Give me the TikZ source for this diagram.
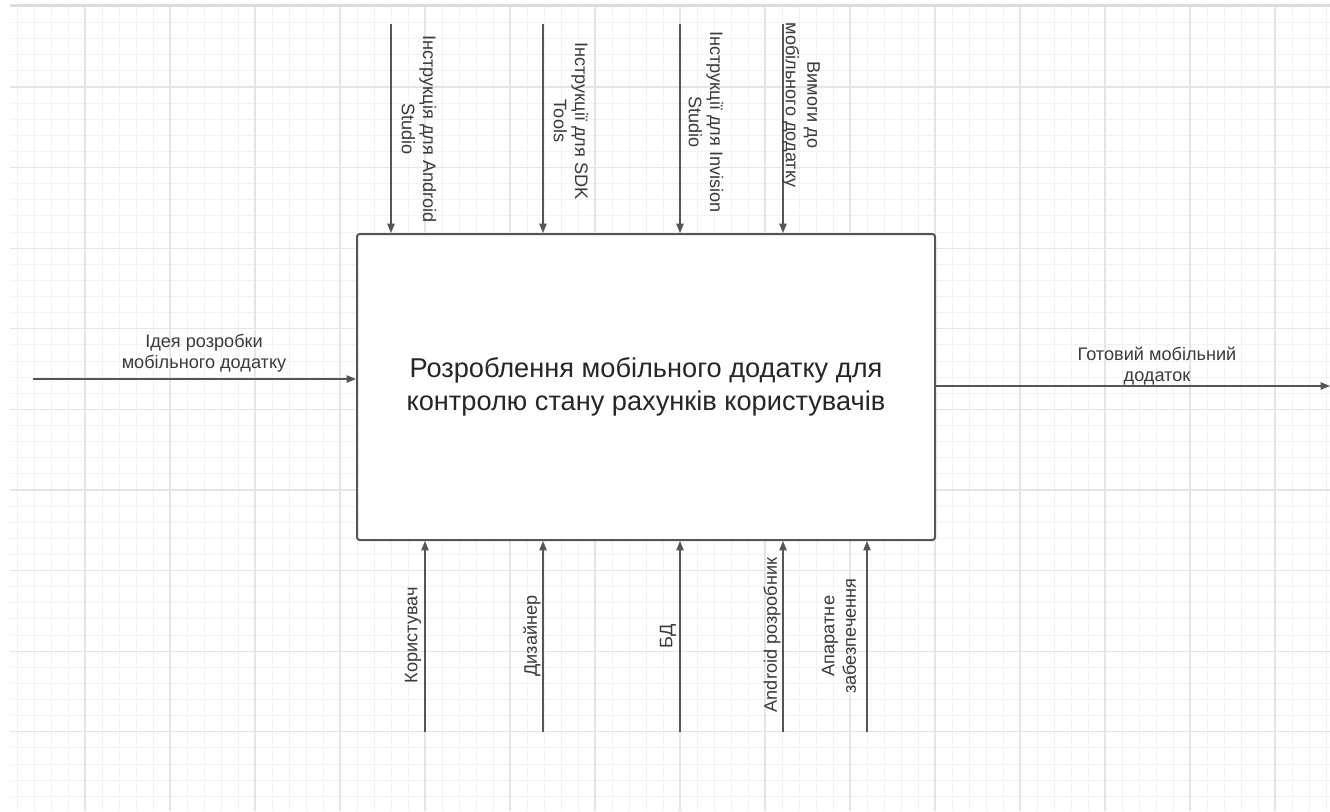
\documentclass[tikz,border=0pt]{standalone}
\usepackage{fontspec}
\setmainfont{Liberation Sans}
\usetikzlibrary{positioning,arrows.meta}
\definecolor{minorgray}{HTML}{F2F2F2}
\definecolor{majorgray}{HTML}{E5E5E5}
\definecolor{bordergray}{HTML}{DCDCDC}
\definecolor{linegray}{HTML}{555555}
\definecolor{textgray}{HTML}{3A3A3A}

\begin{document}
\begin{tikzpicture}[x=0.75pt,y=-0.75pt,
    gridminor/.style={draw=minorgray,line width=.75pt},
    gridmajor/.style={draw=majorgray,line width=.9pt},
    flow/.style={draw=linegray,line width=1pt,-{Triangle[length=7pt,width=5.5pt]}},
    tag/.style={text=textgray,font=\fontsize{13.6}{16}\selectfont,align=center,inner sep=0pt},
    funcbox/.style={draw=linegray,line width=1.5pt,rounded corners=2pt,fill=white,
        minimum width=433.5pt,minimum height=229.5pt,align=center,text=black!85,
        font=\fontsize{20.4}{25}\selectfont}]
    \useasboundingbox (0,0) rectangle (1330,811);
    \fill[white] (0,0) rectangle (1330,811);
    \foreach \i in {1,...,49} {\draw[gridminor] (10,{6.4+16.12*\i}) -- (1330,{6.4+16.12*\i});}
    \foreach \k in {1,...,78} {\draw[gridminor] ({17*\k},6.4) -- ({17*\k},811);}
    \foreach \i in {5,10,...,45} {\draw[gridmajor] (10,{6.4+16.12*\i}) -- (1330,{6.4+16.12*\i});}
    \foreach \k in {5,10,...,75} {\draw[gridmajor] ({17*\k},6.4) -- ({17*\k},811);}
    \draw[draw=bordergray,line width=2.25pt] (10,5.5) -- (1330,5.5);

    \node[funcbox] (proc) at (646,387) {Розроблення мобільного додатку для\\контролю стану рахунків користувачів};

    \foreach \x/\n in {391/a,543/b,680/c,783/d} {
        \coordinate (ctl\n) at (\x,24);
        \draw[flow] (ctl\n) -- (ctl\n |- proc.north);
    }
    \foreach \x/\n in {425/a,543/b,680/c,783/d,867/e} {
        \coordinate (mec\n) at (\x,732);
        \draw[flow] (mec\n) -- (mec\n |- proc.south);
    }
    \coordinate (inp) at (33,379);
    \draw[flow] (inp) -- (inp -| proc.west);
    \coordinate (out) at (1330,386);
    \draw[flow] (out -| proc.east) -- (out);

    \node[tag] (inplbl) at (204,353) {Ідея розробки\\мобільного додатку};
    \node[tag] (outlbl) at (1157,366) {Готовий мобільний\\додаток};

    \node[tag,rotate=-90] (ctllbla) at (419,129) {Інструкція для Android\\Studio};
    \node[tag,rotate=-90] (ctllblb) at (571,121) {Інструкції для SDK\\Tools};
    \node[tag,rotate=-90] (ctllblc) at (706,122) {Інструкції для Invision\\Studio};
    \node[tag,rotate=-90] (ctllbld) at (801,105) {Вимоги до\\мобільного додатку};

    \node[tag,rotate=90] (meclbla) at (413,635) {Користувач};
    \node[tag,rotate=90] (meclblb) at (532,636) {Дизайнер};
    \node[tag,rotate=90] (meclblc) at (668,636) {БД};
    \node[tag,rotate=90] (meclbld) at (772,635) {Android розробник};
    \node[tag,rotate=90] (meclble) at (839,636) {Апаратне\\забезпечення};
\end{tikzpicture}
\end{document}
